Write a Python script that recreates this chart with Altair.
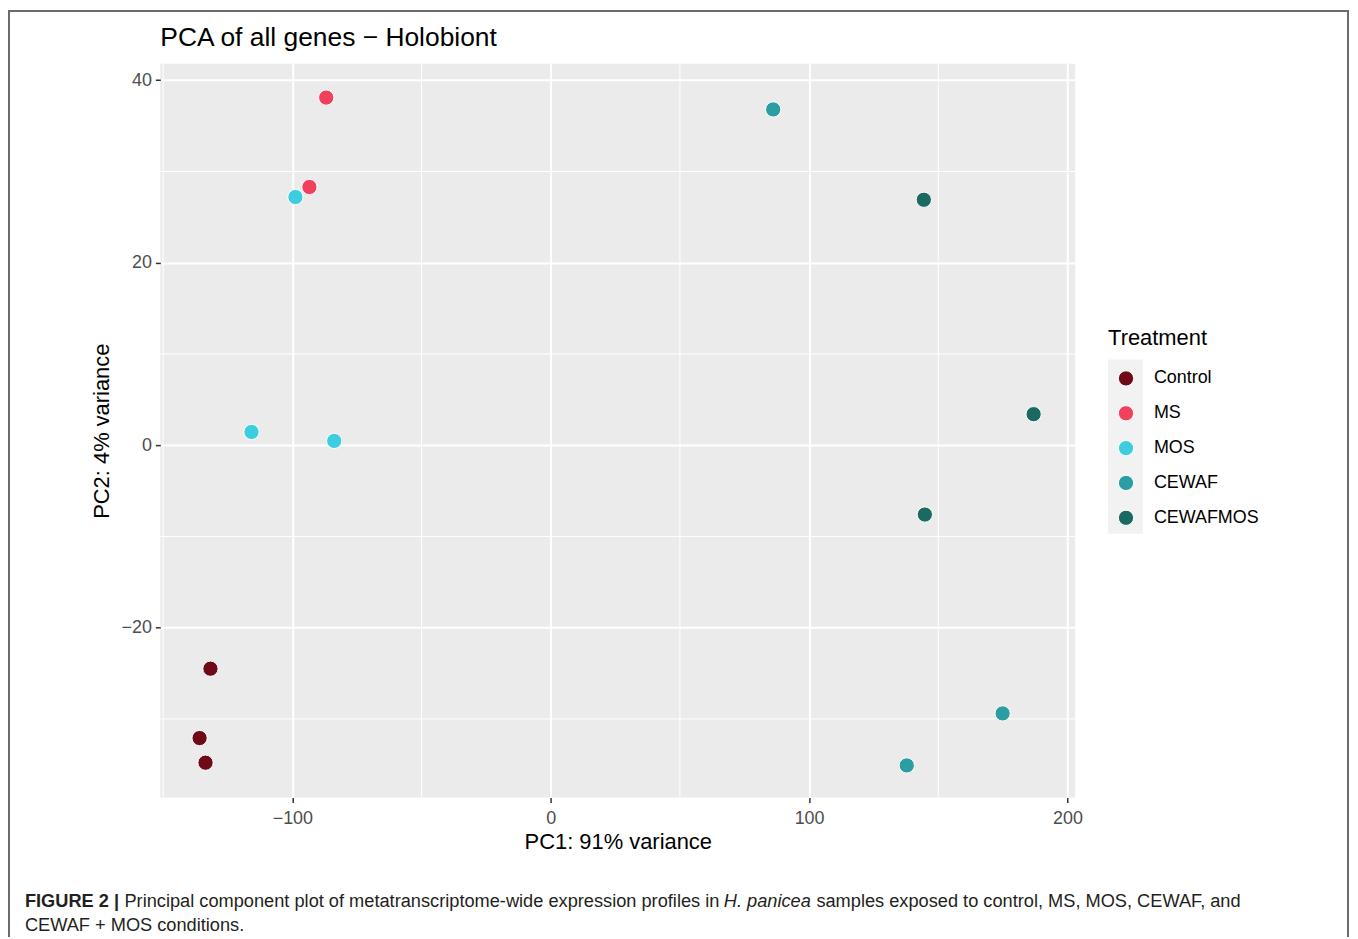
import altair as alt
import pandas as pd

# ---- data ----
treatment = ["Control", "Control", "Control",
             "MS", "MS",
             "MOS", "MOS", "MOS",
             "CEWAF", "CEWAF", "CEWAF",
             "CEWAFMOS", "CEWAFMOS", "CEWAFMOS"]
pc1 = [-131.7, -135.9, -133.6,
       -86.9, -93.4,
       -98.8, -115.8, -83.8,
       86.1, 174.9, 137.8,
       144.4, 186.9, 144.8]
pc2 = [-24.5, -32.1, -34.8,
       38.1, 28.3,
       27.2, 1.45, 0.47,
       36.8, -29.4, -35.1,
       26.9, 3.4, -7.6]
categories = ["Control", "MS", "MOS", "CEWAF", "CEWAFMOS"]
colors = ["#6E0B17", "#F0405B", "#3DCDDE", "#2A9EA3", "#1B6A62"]
x_ticks = [-100, 0, 100, 200]
y_ticks = [-20, 0, 20, 40]
x_minor = [-150, -50, 50, 150]
y_minor = [-30, -10, 10, 30]
plot_title = "PCA of all genes \u2212 Holobiont"

df = pd.DataFrame({"PC1": pc1, "PC2": pc2, "Treatment": treatment})
one = pd.DataFrame({"a": [0]})

W, H = 919, 737
FONT = "Liberation Sans"
x_scale = alt.Scale(domain=[-151.1, 203.0], nice=False, zero=False)
y_scale = alt.Scale(domain=[-38.62, 41.8], nice=False, zero=False)
x_title = "PC1: 91% variance"
y_title = "PC2: 4% variance"

minor_v = alt.Chart(pd.DataFrame({"PC1": x_minor})).mark_rule(
    color="white", strokeWidth=1
).encode(x=alt.X("PC1:Q", scale=x_scale, title=x_title))

minor_h = alt.Chart(pd.DataFrame({"PC2": y_minor})).mark_rule(
    color="white", strokeWidth=1
).encode(y=alt.Y("PC2:Q", scale=y_scale, title=y_title))

LX = 952
key_bg = alt.Chart(one).mark_rect(color="#F2F2F2").encode(
    x=alt.value(LX), x2=alt.value(LX + 35), y=alt.value(297), y2=alt.value(472)
)

points = alt.Chart(df).mark_circle(
    size=235, opacity=1, stroke="white", strokeWidth=1
).encode(
    x=alt.X("PC1:Q", scale=x_scale, title=x_title,
            axis=alt.Axis(values=x_ticks, labelPadding=7, titlePadding=4)),
    y=alt.Y("PC2:Q", scale=y_scale, title=y_title,
            axis=alt.Axis(values=y_ticks, labelPadding=4, titlePadding=8)),
    color=alt.Color(
        "Treatment:N",
        scale=alt.Scale(domain=categories, range=colors),
        sort=categories,
        legend=alt.Legend(
            title="Treatment", orient="none", legendX=LX, legendY=265,
            titleFontSize=22, titleFontWeight="normal", titleColor="black",
            titleFont=FONT, labelFont=FONT,
            labelFontSize=18, labelColor="black",
            symbolType="circle", symbolSize=235, symbolStrokeColor="white",
            symbolStrokeWidth=1, symbolOpacity=1,
            rowPadding=15, titlePadding=20, labelOffset=19, symbolOffset=9,
            padding=0,
        ),
    ),
)

frame = alt.Chart(one).mark_rect(
    fill="transparent", stroke="#6B6B6B", strokeWidth=2
).encode(x=alt.value(-152), x2=alt.value(1193), y=alt.value(-53), y2=alt.value(905))

title_txt = alt.Chart(one).mark_text(
    align="left", baseline="alphabetic", fontSize=26.5, font=FONT, color="black"
).encode(text=alt.value(plot_title), x=alt.value(0), y=alt.value(-18))

cap_style = dict(align="left", baseline="middle", fontSize=18.3, font=FONT, color="#231F20")
cap1 = alt.Chart(one).mark_text(fontWeight="bold", **cap_style).encode(
    text=alt.value("FIGURE 2 |"), x=alt.value(-136), y=alt.value(842))
cap2 = alt.Chart(one).mark_text(**cap_style).encode(
    text=alt.value("Principal component plot of metatranscriptome-wide expression profiles in"),
    x=alt.value(-36), y=alt.value(842))
cap3 = alt.Chart(one).mark_text(fontStyle="italic", **cap_style).encode(
    text=alt.value("H. panicea"), x=alt.value(566), y=alt.value(842))
cap4 = alt.Chart(one).mark_text(**cap_style).encode(
    text=alt.value("samples exposed to control, MS, MOS, CEWAF, and"),
    x=alt.value(659), y=alt.value(842))
cap5 = alt.Chart(one).mark_text(**cap_style).encode(
    text=alt.value("CEWAF + MOS conditions."), x=alt.value(-136), y=alt.value(866))

chart = alt.layer(
    minor_v, minor_h, key_bg, points, frame, title_txt, cap1, cap2, cap3, cap4, cap5
).properties(
    width=W, height=H,
    autosize=alt.AutoSizeParams(type="none"),
    padding={"left": 153, "top": 54, "right": 276, "bottom": 138},
).configure(
    font=FONT, background="white"
).configure_view(
    fill="#EBEBEB", strokeWidth=0
).configure_axis(
    grid=True, gridColor="white", gridWidth=2, domain=False,
    tickColor="#333333", tickWidth=1.5, tickSize=5,
    labelColor="#4D4D4D", labelFontSize=18, labelFont=FONT,
    titleFontSize=22, titleFontWeight="normal", titleColor="black", titleFont=FONT,
)

chart.save("out.html", embed_options={"renderer": "svg", "actions": False})
